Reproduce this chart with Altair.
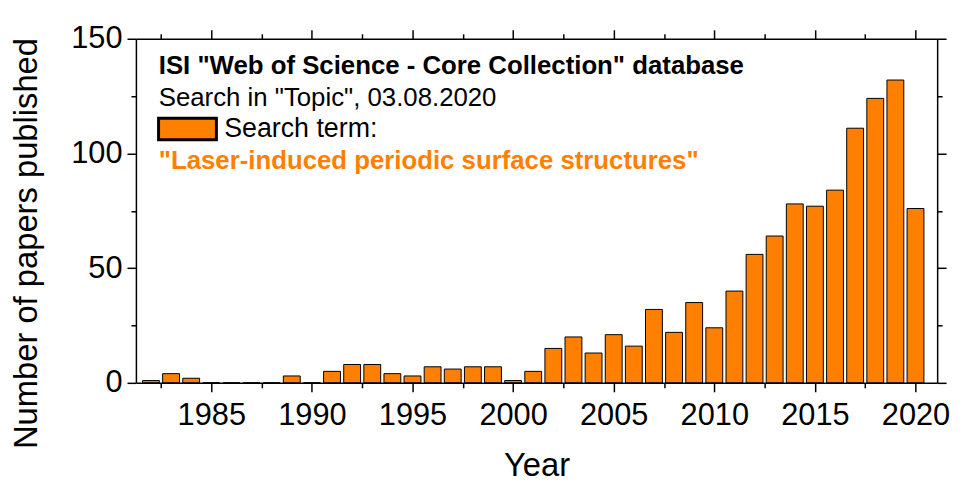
import altair as alt
import pandas as pd

years = list(range(1982, 2021))
papers = [1, 4, 2, 0, 0, 0, 0, 3, 0, 5, 8, 8, 4, 3, 7, 6, 7, 7, 1, 5,
          15, 20, 13, 21, 16, 32, 22, 35, 24, 40, 56, 64, 78, 77, 84, 111, 124, 132, 76]
term = "Search term:"
x_major = [1985, 1990, 1995, 2000, 2005, 2010, 2015, 2020]
x_minor = [1982.5, 1987.5, 1992.5, 1997.5, 2002.5, 2007.5, 2012.5, 2017.5]
y_major = [0, 50, 100, 150]
y_minor = [25, 75, 125]
header_lines = ['ISI "Web of Science - Core Collection" database', 'Search in "Topic", 03.08.2020']
query_text = '"Laser-induced periodic surface structures"'

ORANGE = "#FF8000"
FONT = "Liberation Sans"

df = pd.DataFrame({"Year": years, "Papers": papers, "Term": [term] * len(years)})

xs = alt.Scale(domain=[1981.5, 2020.83], nice=False, zero=False)
ys = alt.Scale(domain=[0, 150], nice=False)

common = dict(domainColor="black", tickColor="black", domainWidth=1.5, tickWidth=1.5,
              grid=False, labelColor="black", labelFont=FONT, labelFontSize=31,
              titleFont=FONT, titleFontWeight="normal", titleColor="black", zindex=1)

ax_bottom = alt.Axis(orient="bottom", values=x_major, format="d", tickSize=9, labelPadding=9,
                     title="Year", titleFontSize=33, titleBaseline="middle", titleY=83,
                     labelFlush=False, labelOverlap=False, **common)
ax_left = alt.Axis(orient="left", values=y_major, format="d", tickSize=9, labelPadding=5,
                   title="Number of papers published", titleFontSize=33, titleAngle=-90,
                   titleBaseline="middle", titleX=-110, titleY=206, titleAlign="center",
                   labelFlush=False, labelOverlap=False, **common)

def bare(orient, vals, size, domain):
    return alt.Axis(orient=orient, values=vals, tickSize=size, labels=False, title=None,
                    domain=domain, **common)

bars = alt.Chart(df).mark_bar(size=17, stroke="black", strokeWidth=1).encode(
    x=alt.X("Year:Q", scale=xs, axis=ax_bottom),
    y=alt.Y("Papers:Q", scale=ys, axis=ax_left),
    color=alt.Color("Term:N", scale=alt.Scale(range=[ORANGE]),
                    legend=alt.Legend(orient="none", legendX=21, legendY=60, title=None,
                                      symbolType="M-1,-0.37H1V0.37H-1Z", symbolSize=3400,
                                      symbolStrokeColor="black", symbolStrokeWidth=3,
                                      symbolFillColor=ORANGE, symbolOpacity=1,
                                      labelFont=FONT, labelFontSize=27, labelColor="black",
                                      labelOffset=6, padding=0)),
)

def axis_layer(xa, ya):
    return alt.Chart(df).mark_point(opacity=0, size=1).encode(
        x=alt.X("Year:Q", scale=xs, axis=xa),
        y=alt.Y("Papers:Q", scale=ys, axis=ya),
    )

minor_bl = axis_layer(bare("bottom", x_minor, 5, False), bare("left", y_minor, 5, False))
major_tr = axis_layer(bare("top", x_major, 9, True), bare("right", y_major, 9, True))
minor_tr = axis_layer(bare("top", x_minor, 5, False), bare("right", y_minor, 5, False))

t1 = alt.Chart(pd.DataFrame({"line": [header_lines[0]]})).mark_text(
    align="left", baseline="middle", font=FONT, fontSize=26, fontWeight="bold", color="black"
).encode(text="line:N", x=alt.value(23), y=alt.value(28))
t2 = alt.Chart(pd.DataFrame({"line": [header_lines[1]]})).mark_text(
    align="left", baseline="middle", font=FONT, fontSize=26, color="black"
).encode(text="line:N", x=alt.value(23), y=alt.value(60))
t3 = alt.Chart(pd.DataFrame({"line": [query_text]})).mark_text(
    align="left", baseline="middle", font=FONT, fontSize=26, fontWeight="bold", color=ORANGE
).encode(text="line:N", x=alt.value(23), y=alt.value(123))

chart = alt.layer(bars, minor_bl, major_tr, minor_tr, t1, t2, t3).resolve_axis(
    x="independent", y="independent"
).properties(
    width=808, height=347,
    autosize=alt.AutoSizeParams(type="none"),
    padding={"left": 129, "top": 29, "right": 19, "bottom": 99},
).configure_view(stroke=None)

chart.save("out.html", embed_options={"renderer": "svg", "actions": False})
